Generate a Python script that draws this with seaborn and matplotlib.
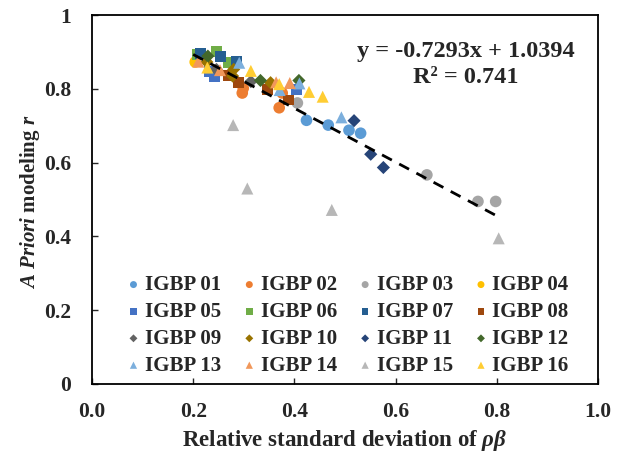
import numpy as np
import pandas as pd
import matplotlib
matplotlib.use("Agg")
from matplotlib import pyplot as plt
import seaborn as sns

# groups shown in the legend (IGBP land cover classes)
groups = [f"IGBP {i:02d}" for i in range(1, 17)]

# one entry per point: group index, relative std of rho*beta, a priori r
point_group = [1, 1, 1, 1,
               2, 2, 2, 2,
               3, 3, 3, 3,
               4,
               5, 5, 5,
               6, 6, 6,
               7, 7, 7,
               8, 8, 8, 8,
               9, 9,
               10, 10, 10, 10,
               11, 11, 11,
               12, 12, 12,
               13, 13, 13, 13,
               14, 14, 14, 14,
               15, 15, 15, 15,
               16, 16, 16, 16, 16]
rel_std = [0.424, 0.467, 0.508, 0.531,
           0.299, 0.297, 0.370, 0.376,
           0.406, 0.662, 0.763, 0.798,
           0.204,
           0.232, 0.243, 0.405,
           0.208, 0.246, 0.269,
           0.215, 0.254, 0.286,
           0.269, 0.289, 0.347, 0.389,
           0.246, 0.314,
           0.227, 0.280, 0.278, 0.353,
           0.518, 0.551, 0.576,
           0.229, 0.333, 0.409,
           0.291, 0.371, 0.410, 0.493,
           0.210, 0.253, 0.364, 0.391,
           0.279, 0.307, 0.474, 0.804,
           0.228, 0.314, 0.370, 0.429, 0.456]
r_model = [0.715, 0.702, 0.688, 0.680,
           0.802, 0.789, 0.749, 0.789,
           0.762, 0.567, 0.495, 0.495,
           0.873,
           0.847, 0.833, 0.798,
           0.894, 0.901, 0.871,
           0.896, 0.889, 0.874,
           0.837, 0.818, 0.798, 0.770,
           0.853, 0.820,
           0.873, 0.853, 0.835, 0.817,
           0.714, 0.623, 0.587,
           0.889, 0.823, 0.823,
           0.871, 0.797, 0.815, 0.723,
           0.874, 0.851, 0.818, 0.816,
           0.702, 0.530, 0.472, 0.395,
           0.858, 0.849, 0.813, 0.792, 0.779]

# trendline as printed on the chart
slope, intercept, r2 = -0.7293, 1.0394, 0.741
fit_range = [0.20, 0.80]

colors = ["#5B9BD5", "#ED7D31", "#A5A5A5", "#FFC000",
          "#4472C4", "#70AD47", "#255E91", "#9E480E",
          "#636363", "#997300", "#264478", "#43682B",
          "#7CAFDD", "#F1975A", "#B7B7B7", "#FFCD33"]
shapes = ["o"] * 4 + ["s"] * 4 + ["D"] * 4 + ["^"] * 4

df = pd.DataFrame({
    "group": [groups[g - 1] for g in point_group],
    "x": rel_std,
    "y": r_model,
})

sns.set_style("ticks")
plt.rcParams["font.family"] = ["Liberation Serif", "DejaVu Serif"]
plt.rcParams["font.weight"] = "bold"
plt.rcParams["mathtext.fontset"] = "custom"
plt.rcParams["mathtext.it"] = "Liberation Serif:italic:bold"
plt.rcParams["mathtext.rm"] = "Liberation Serif:bold"
plt.rcParams["mathtext.bf"] = "Liberation Serif:bold"

fig = plt.figure(figsize=(6.36, 4.59), dpi=100)
ax = fig.add_axes([0.1447, 0.1634, 0.7953, 0.8035])

sizes = {"o": 70, "s": 62, "D": 45, "^": 75}
for g, c, m in zip(groups, colors, shapes):
    sub = df[df["group"] == g]
    sns.scatterplot(data=sub, x="x", y="y", color=c, marker=m, s=sizes[m],
                    edgecolor="none", ax=ax, label=g, zorder=3)

xs = np.array(fit_range)
ax.plot(xs, slope * xs + intercept, color="black", lw=2.0,
        dashes=(4, 3), zorder=4)

ax.text(0.739, 0.887, f"y = {slope}x + {intercept}", transform=ax.transAxes,
        ha="center", va="baseline", fontsize=17.5, fontweight="bold")
ax.text(0.739, 0.815, f"R² = {r2}", transform=ax.transAxes,
        ha="center", va="baseline", fontsize=17.5, fontweight="bold")

ax.set_xlim(0, 1)
ax.set_ylim(0, 1)
ax.set_xticks(np.arange(0, 1.01, 0.2))
ax.set_xticklabels([f"{v:.1f}" for v in np.arange(0, 1.01, 0.2)])
ax.set_yticks(np.arange(0, 1.01, 0.2))
ax.set_yticklabels(["0", "0.2", "0.4", "0.6", "0.8", "1"])
ax.tick_params(direction="in", length=4, width=1, labelsize=15.5)
ax.tick_params(axis="x", pad=13)
ax.tick_params(axis="y", pad=15)
for s in ax.spines.values():
    s.set_linewidth(1.3)
    s.set_color("black")

ax.set_xlabel(r"Relative standard deviation of $\rho\beta$", fontsize=16.5,
              fontweight="bold", labelpad=4)
ax.set_ylabel("")
fig.text(0.047, 0.56, r"$\it{A\ Priori}$ modeling $\it{r}$", rotation=90,
         ha="center", va="center", fontsize=15, fontweight="bold")

# legend filled row by row, as in the reference
handles, labels = ax.get_legend_handles_labels()
order = [r * 4 + c for c in range(4) for r in range(4)]
leg = ax.legend([handles[i] for i in order], [labels[i] for i in order],
                loc="lower center", bbox_to_anchor=(0.507, 0.0), ncol=4,
                frameon=False, fontsize=15, handlelength=0.5,
                handletextpad=0.3, columnspacing=1.1, labelspacing=0.33,
                markerscale=0.6, borderaxespad=0)

fig.savefig("out.png", dpi=100)
